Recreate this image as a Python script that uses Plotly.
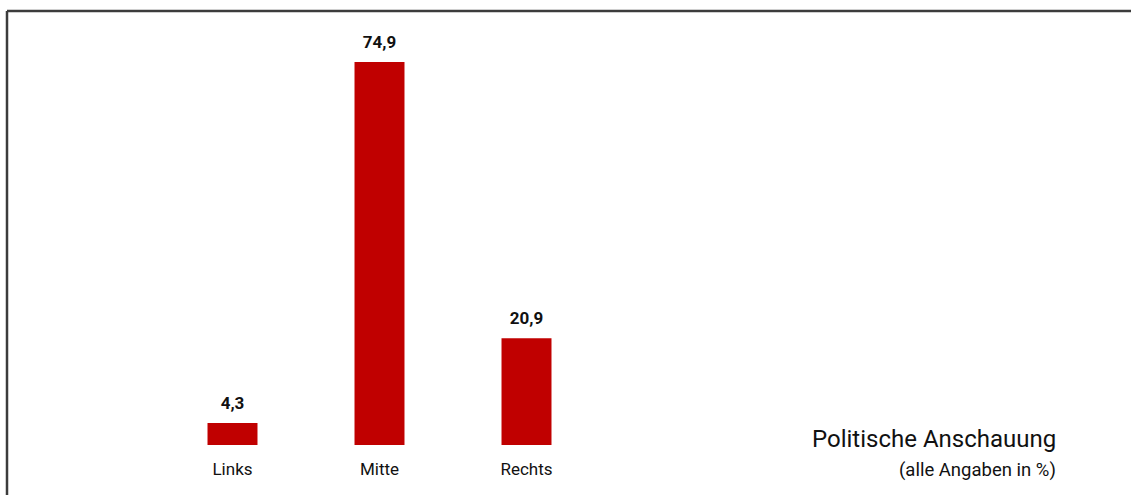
import plotly.graph_objects as go

categories = ["Links", "Mitte", "Rechts"]
values = [4.3, 74.9, 20.9]
value_labels = ["4,3", "74,9", "20,9"]
title_text = "Politische Anschauung"
subtitle_text = "(alle Angaben in %)"

W, H = 1131, 495
bar_color = "#C00000"
text_color = "#111111"
font_family = "Roboto, 'Open Sans', sans-serif"

fig = go.Figure()
fig.add_trace(go.Bar(
    x=categories,
    y=values,
    marker=dict(color=bar_color, line=dict(width=0)),
    width=0.34,
    hoverinfo="skip",
))
fig.add_trace(go.Scatter(
    x=categories,
    y=values,
    mode="markers+text",
    marker=dict(size=14, color="rgba(0,0,0,0)"),
    text=["<b>%s</b>" % s for s in value_labels],
    textposition="top center",
    textfont=dict(family=font_family, size=17, color=text_color),
    cliponaxis=False,
    hoverinfo="skip",
))

# plot area: baseline at y=445, top at 36 px
t, b = 36, 50
plot_h = H - t - b

def py(pix):
    return (H - b - pix) / plot_h

fig.update_layout(
    width=W, height=H,
    margin=dict(l=0, r=0, t=t, b=b, pad=0),
    paper_bgcolor="white", plot_bgcolor="white",
    showlegend=False,
    xaxis=dict(
        domain=[159 / W, 600 / W],
        range=[-0.5, 2.5],
        showgrid=False, zeroline=False, showline=False, ticks="",
        tickfont=dict(family=font_family, size=17, color=text_color),
        ticklabelstandoff=12,
    ),
    yaxis=dict(
        range=[0, 80],
        visible=False,
    ),
    shapes=[
        dict(type="line", xref="paper", yref="paper",
             x0=7 / W, x1=1.0, y0=py(11), y1=py(11),
             line=dict(color="#3c3c3c", width=2.5)),
        dict(type="line", xref="paper", yref="paper",
             x0=7 / W, x1=7 / W, y0=py(11), y1=py(H + 5),
             line=dict(color="#3c3c3c", width=2.5)),
    ],
    annotations=[
        dict(text=title_text, xref="paper", yref="paper",
             x=1058 / W, y=py(439), xanchor="right", yanchor="middle",
             showarrow=False,
             font=dict(family=font_family, size=24, color=text_color)),
        dict(text=subtitle_text, xref="paper", yref="paper",
             x=1058 / W, y=py(470), xanchor="right", yanchor="middle",
             showarrow=False,
             font=dict(family=font_family, size=18.5, color=text_color)),
    ],
)

fig.write_html("out.html")
